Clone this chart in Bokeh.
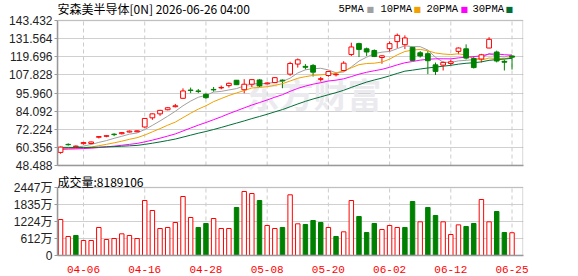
import pandas as pd
from bokeh.plotting import figure
from bokeh.layouts import column
from bokeh.models import (ColumnDataSource, FixedTicker, Label, Range1d,
                          NumeralTickFormatter, BoxAnnotation)
from bokeh.embed import file_html
from bokeh.resources import INLINE

title_text = "安森美半导体[0N] 2026-06-26 04:00"
volume_title = "成交量:8189106"
ma_names = ["5PMA", "10PMA", "20PMA", "30PMA"]
ma_windows = [5, 10, 20, 30]
ma_colors = ["#a0a0a0", "#f0a000", "#ff00ff", "#006e36"]

date_tick_idx = [3, 11, 19, 27, 35, 43, 51, 59]
date_tick_labels = ["04-06", "04-16", "04-28", "05-08", "05-20", "06-02", "06-12", "06-25"]
price_ticks = [48.488, 60.356, 72.224, 84.092, 95.960, 107.828, 119.696, 131.564, 143.432]
vol_ticks = [0, 611.75, 1223.5, 1835.25, 2447]
vol_tick_labels = ["0", "612万", "1224万", "1835万", "2447万"]

opens = [57.06, 62.3, 60.8, 62.8, 62.9, 67.0, 67.6, 69.0, 69.3, 70.4,
         70.6, 73.7, 79.7, 82.3, 85.0, 87.0, 92.5, 97.9, 97.3, 95.1,
         98.3, 99.3, 100.8, 104.3, 98.1, 101.7, 104.5, 102.0, 102.8, 104.4,
         108.3, 114.9, 113.4, 114.0, 104.9, 107.4, 107.9, 110.7, 121.2, 128.3,
         124.9, 123.8, 119.2, 125.0, 129.6, 127.6, 125.8, 122.3, 121.7, 114.4,
         114.2, 115.3, 123.2, 124.9, 118.5, 118.2, 125.4, 122.8, 116.7, 120.2]
highs = [60.9, 63.0, 61.6, 63.9, 64.1, 67.7, 68.2, 69.6, 70.4, 71.4,
         71.6, 79.5, 82.6, 84.9, 86.6, 88.8, 99.0, 99.5, 98.6, 95.8,
         99.9, 100.8, 102.8, 104.5, 105.0, 104.9, 105.0, 103.0, 106.3, 104.8,
         116.4, 118.6, 114.9, 114.9, 106.5, 110.5, 109.0, 116.8, 128.9, 128.9,
         125.7, 124.5, 120.6, 129.8, 134.9, 133.7, 126.3, 123.4, 123.6, 115.9,
         116.6, 117.7, 125.8, 127.8, 120.0, 121.6, 132.5, 123.7, 117.8, 120.6]
lows = [56.2, 61.5, 60.0, 62.2, 62.3, 66.2, 67.0, 67.7, 68.8, 70.1,
        70.2, 73.3, 78.4, 81.0, 84.6, 86.5, 92.3, 95.9, 95.9, 92.2,
        96.8, 98.4, 99.5, 101.2, 95.8, 99.9, 99.9, 101.5, 102.6, 99.1,
        107.2, 112.6, 111.3, 106.7, 103.5, 106.6, 106.8, 110.0, 120.2, 119.5,
        120.2, 119.5, 115.1, 122.8, 125.4, 124.8, 116.8, 119.2, 108.3, 107.8,
        110.7, 114.0, 121.3, 117.9, 112.0, 116.0, 125.3, 116.0, 110.7, 111.3]
closes = [60.56, 62.1, 61.2, 63.5, 63.9, 67.4, 68.0, 68.7, 70.0, 71.0,
          71.2, 79.3, 82.3, 84.6, 86.3, 87.6, 97.3, 97.6, 97.0, 92.9,
          98.0, 99.6, 102.3, 101.4, 101.7, 104.7, 100.6, 102.5, 106.0, 103.9,
          115.3, 117.7, 112.8, 109.6, 105.3, 110.0, 108.3, 115.5, 126.1, 124.5,
          122.8, 119.9, 120.3, 128.3, 133.7, 132.0, 117.3, 120.2, 117.1, 110.1,
          116.0, 116.4, 125.4, 118.8, 112.6, 121.0, 131.1, 116.9, 116.1, 119.4]
volumes_wan = [1295, 684, 720, 540, 540, 1008, 576, 612, 780, 720,
               612, 1979, 1619, 972, 1008, 1188, 2123, 1367, 1008, 1151,
               1331, 972, 972, 1727, 2303, 2231, 1979, 1080, 972, 1008,
               2184, 1140, 1115, 1259, 1188, 1008, 684, 852, 1979, 1403,
               828, 1151, 936, 1080, 1008, 1008, 1943, 1212, 1727, 1439,
               1212, 756, 1103, 1044, 1151, 2015, 1212, 1583, 828, 818.9106]
# closes before the visible window (estimated from where the MA lines start)
prior_closes = [63.4, 63.1, 62.8, 63.0, 62.6, 62.9, 63.2, 62.7, 62.5, 62.8,
                59.6, 59.2, 58.9, 59.1, 58.8, 59.3, 59.0, 58.7, 59.2, 58.9,
                59.1, 59.4, 58.8, 59.0, 59.2, 58.9, 59.1, 59.0, 58.8]

RED = "#ff0000"
GREEN = "#008000"
BORDER = "#999999"
FONT_NUM = "Liberation Sans, 'Noto Sans CJK SC'"
FONT_CJK = "'Noto Sans CJK SC'"

n = len(closes)
idx = list(range(n))
up = [c >= o for o, c in zip(opens, closes)]
prev = [prior_closes[-1]] + closes[:-1]
vol_up = [c >= p for c, p in zip(closes, prev)]

src = ColumnDataSource(dict(
    x=idx, open=opens, high=highs, low=lows, close=closes,
    top=[max(o, c) for o, c in zip(opens, closes)],
    bottom=[min(o, c) for o, c in zip(opens, closes)],
    color=[RED if u else GREEN for u in up],
    fill=["#ffffff" if u else GREEN for u in up],
    vol=volumes_wan,
    vcolor=[RED if u else GREEN for u in vol_up],
    vfill=["#ffffff" if u else GREEN for u in vol_up],
))

all_close = pd.Series(prior_closes + closes)
for w, name in zip(ma_windows, ma_names):
    src.data[name] = list(all_close.rolling(w).mean().iloc[len(prior_closes):])

X0, X1 = -0.4, 60.4
x_range = Range1d(X0, 60.5)

# main pane: frame spans canvas y 0..165, price axis occupies 20..165
p_lo, p_hi = price_ticks[0], price_ticks[-1]
p_top = p_hi + 20 * (p_hi - p_lo) / 145.0
p1 = figure(width=578, height=172, x_range=x_range, y_range=Range1d(p_lo, p_top),
            output_backend="svg", toolbar_location=None,
            min_border_left=57, min_border_right=55, min_border_top=0, min_border_bottom=7)
p1.xaxis.ticker = FixedTicker(ticks=[])
p1.xaxis.major_label_text_font_size = "0px"
p1.xaxis.major_tick_line_color = None
p1.xaxis.minor_tick_line_color = None
p1.xaxis.axis_line_color = BORDER
p1.xaxis.axis_line_width = 1.5
p1.xgrid.visible = False
p1.ygrid.grid_line_color = "#d0d0d0"
p1.yaxis.ticker = FixedTicker(ticks=price_ticks)
p1.yaxis.formatter = NumeralTickFormatter(format="0.000")
p1.yaxis.bounds = (p_lo, p_hi)
p1.outline_line_color = None

wm = Label(x=188, y=72, x_units="screen", y_units="screen", text="东方财富",
           text_font=FONT_CJK, text_font_size="34px", text_font_style="bold",
           text_color="#ebebef", text_baseline="middle", level="underlay")
p1.add_layout(wm)

p1.segment(x0=date_tick_idx, y0=[p_lo] * len(date_tick_idx), x1=date_tick_idx,
           y1=[p_hi] * len(date_tick_idx), color="#cccccc", line_dash="4 3", line_width=1)
p1.segment(x0="x", y0="high", x1="x", y1="low", color="color", line_width=1, source=src)
for name, col in zip(ma_names, ma_colors):
    p1.line(x="x", y=name, color=col, line_width=1, source=src)
p1.vbar(x="x", top="top", bottom="bottom", width=0.62, fill_color="fill",
        line_color="color", line_width=1, source=src)
p1.add_layout(BoxAnnotation(left=X0, right=X1, bottom=p_lo, top=p_hi, fill_color=None,
                            line_color=BORDER, line_width=1.5))

p1.add_layout(Label(x=0, y=157, x_units="screen", y_units="screen", text=title_text,
                    text_font=FONT_CJK, text_font_size="12px", text_color="#000000",
                    text_baseline="middle"))
leg_text_x = [281, 323, 369, 415]
leg_box_x = [309, 356, 403, 448]
for name, col, tx, bx in zip(ma_names, ma_colors, leg_text_x, leg_box_x):
    p1.add_layout(Label(x=tx, y=157, x_units="screen", y_units="screen", text=name,
                        text_font="Liberation Mono", text_font_size="10.5px",
                        text_color="#000000", text_baseline="middle"))
    p1.add_layout(Label(x=bx, y=156, x_units="screen", y_units="screen", text="■",
                        text_font="DejaVu Sans", text_font_size="8px",
                        text_color=col, text_baseline="middle"))

# volume pane: frame spans canvas y 172..255, volume axis occupies 187..255
v_lo, v_hi = vol_ticks[0], vol_ticks[-1]
v_top = v_hi + 15 * (v_hi - v_lo) / 68.0
p2 = figure(width=578, height=104, x_range=x_range, y_range=Range1d(v_lo, v_top),
            output_backend="svg", toolbar_location=None,
            min_border_left=57, min_border_right=55, min_border_top=0, min_border_bottom=21)
p2.segment(x0=date_tick_idx, y0=[v_lo] * len(date_tick_idx), x1=date_tick_idx,
           y1=[v_hi] * len(date_tick_idx), color="#cccccc", line_dash="4 3", line_width=1)
p2.vbar(x="x", top="vol", bottom=0, width=0.58, fill_color="vfill",
        line_color="vcolor", line_width=1, source=src)
p2.add_layout(BoxAnnotation(left=X0, right=X1, bottom=v_lo, top=v_hi, fill_color=None,
                            line_color=BORDER, line_width=1.5))
p2.xaxis.ticker = FixedTicker(ticks=date_tick_idx)
p2.xaxis.major_label_overrides = {t: l for t, l in zip(date_tick_idx, date_tick_labels)}
p2.yaxis.ticker = FixedTicker(ticks=vol_ticks)
p2.yaxis.major_label_overrides = {t: l for t, l in zip(vol_ticks, vol_tick_labels)}
p2.yaxis.bounds = (v_lo, v_hi)
p2.xgrid.visible = False
p2.ygrid.grid_line_color = "#d0d0d0"
p2.outline_line_color = None
p2.add_layout(Label(x=0, y=74, x_units="screen", y_units="screen", text=volume_title,
                    text_font=FONT_CJK, text_font_size="12px", text_color="#000000",
                    text_baseline="middle"))

for p in (p1, p2):
    p.yaxis.major_label_text_font = FONT_NUM
    p.yaxis.major_label_text_font_size = "12px"
    p.yaxis.major_label_text_color = "#222222"
    p.yaxis.axis_line_color = BORDER
    p.yaxis.axis_line_width = 1.5
    p.yaxis.major_tick_line_color = BORDER
    p.yaxis.major_tick_out = 3
    p.yaxis.major_tick_in = 0
    p.yaxis.minor_tick_line_color = None
    p.yaxis.major_label_standoff = 2
    p.background_fill_color = "#ffffff"
    p.border_fill_color = "#ffffff"

p2.xaxis.major_label_text_font = "Liberation Mono"
p2.xaxis.major_label_text_font_size = "11px"
p2.xaxis.major_label_text_color = RED
p2.xaxis.axis_line_color = BORDER
p2.xaxis.axis_line_width = 1.5
p2.xaxis.major_tick_line_color = None
p2.xaxis.minor_tick_line_color = None
p2.xaxis.major_label_standoff = 4

layout = column(p1, p2, spacing=0)
open("out.html", "w").write(file_html(layout, INLINE))
